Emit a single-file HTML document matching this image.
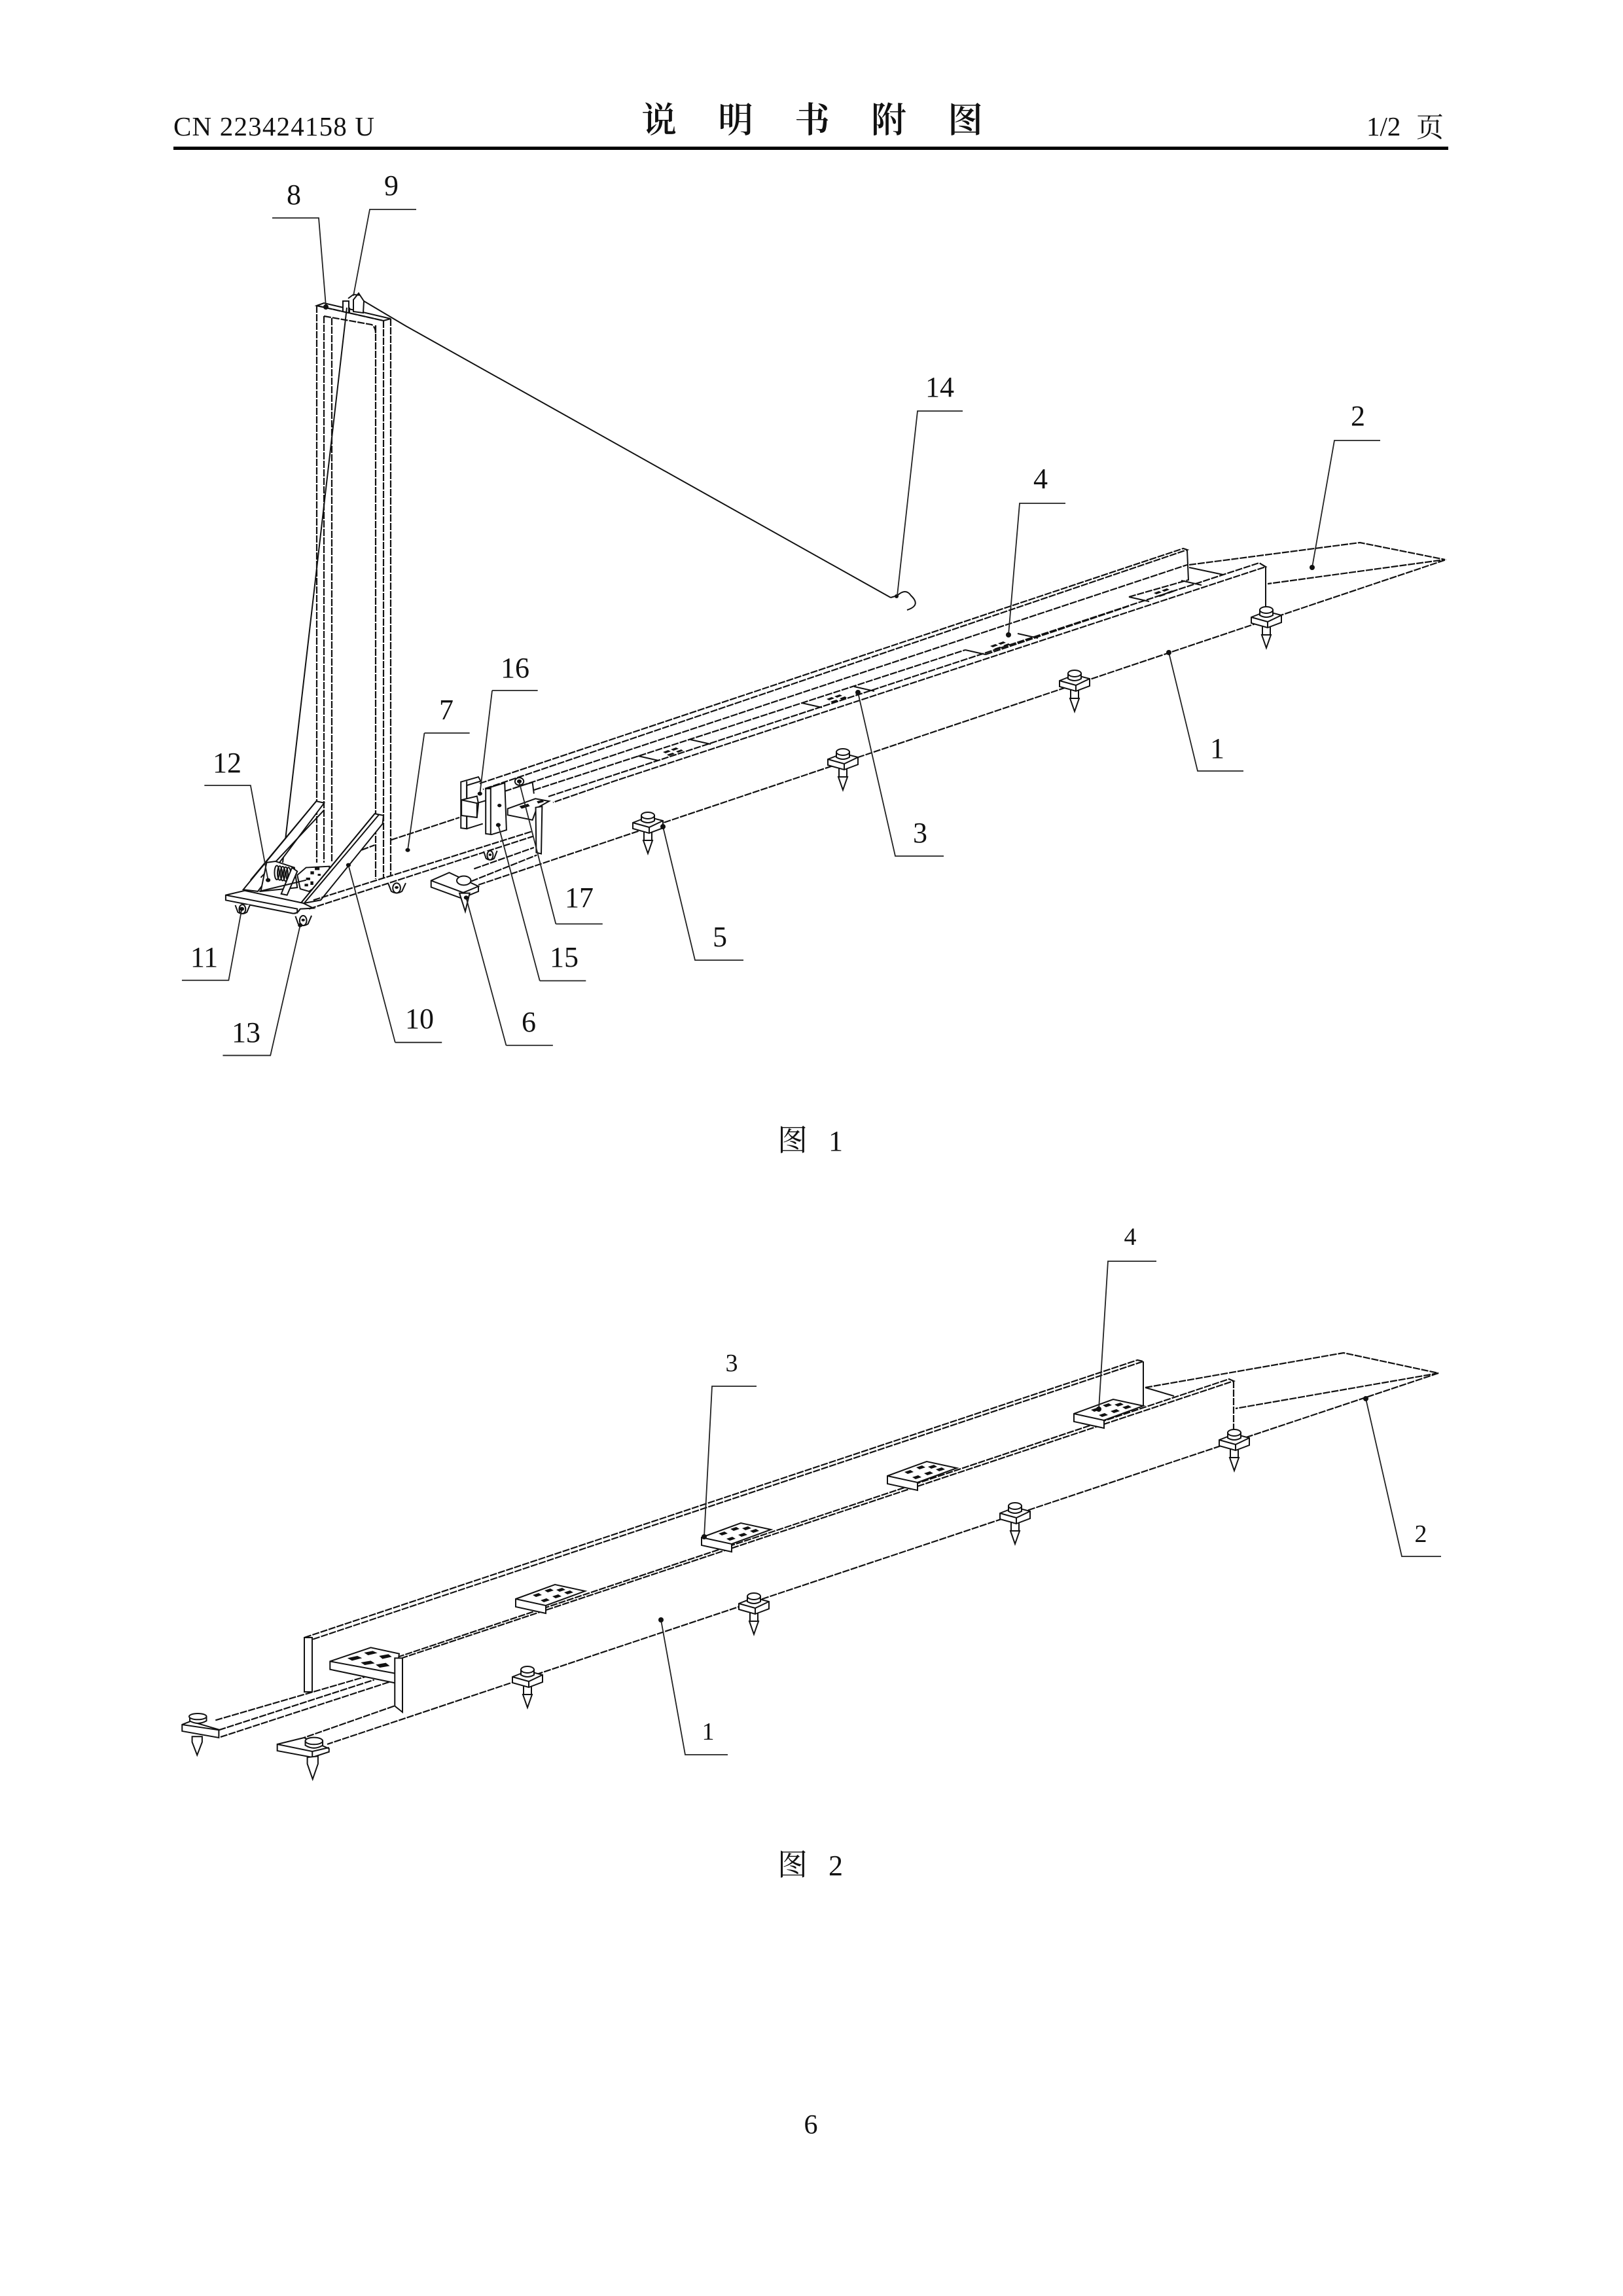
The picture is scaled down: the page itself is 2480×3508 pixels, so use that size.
<!DOCTYPE html>
<html><head><meta charset="utf-8"><style>
html,body{margin:0;padding:0;background:#fff}
svg{display:block}
svg *{vector-effect:non-scaling-stroke}
.o{fill:none;stroke:#111;stroke-width:2.2;stroke-dasharray:11 2}
.s{fill:none;stroke:#111;stroke-width:2}
.w{fill:#fff;stroke:#111;stroke-width:2}
.l{fill:none;stroke:#222;stroke-width:1.8}
.k{fill:#111;stroke:none}
text{fill:#111;font-family:"Liberation Serif","Noto Serif CJK SC",serif}
.n{font-size:44px;text-anchor:middle}
</style></head><body>
<svg xmlns="http://www.w3.org/2000/svg" xmlns:xlink="http://www.w3.org/1999/xlink" width="2480" height="3508" viewBox="0 0 2480 3508">
<defs>
<g id="bolt">
<rect class="w" x="-6" y="8" width="12" height="14"/>
<path class="w" d="M-7 22 L0 42 L7 22 Z"/>
<path class="w" d="M-23 -5 L0 -14 L23 -8 L23 3 L2 11 L-23 4 Z"/>
<path class="s" d="M-23 -5 L2 2 L23 -8 M2 2 V11"/>
<path class="w" d="M-10 -16 V-8 Q0 -2 10 -8 V-16 Z"/>
<ellipse class="w" cx="0" cy="-16" rx="10" ry="5"/>
</g>
<g id="p1">
<path class="s" d="M0 0 L31 7 M80 -25 L111 -18"/>
<path class="k" d="M38 -6 l8 -3 4 2 -8 3z M50 -10 l8 -3 4 2 -8 3z M44 -2 l9 -3 3 2 -9 3z M58 -7 l8 -3 3 2 -8 3z"/>
</g>
<g id="p2">
<path class="w" d="M0 0 L60 -22 L106 -12 L46 10 L46 22 L0 12 Z"/>
<path class="s" d="M0 0 L46 10 V22"/>
<path class="k" d="M26 -6 l9 -3 5 3 -9 3z M44 -13 l9 -3 5 3 -9 3z M62 -14 l9 -3 5 3 -9 3z M38 2 l9 -3 5 3 -9 3z M56 -4 l9 -3 5 3 -9 3z M74 -10 l9 -3 5 3 -9 3z"/>
</g>
<g id="cast">
<path class="w" d="M-22 -10 L-14 18 Q0 30 14 18 L24 -12"/>
<ellipse class="w" cx="0" cy="6" rx="10" ry="18"/>
<circle class="k" r="5" cy="4"/>
</g>
</defs>

<!-- Header -->
<text x="265" y="207" font-size="41" textLength="307" lengthAdjust="spacing">CN 223424158 U</text>
<g font-size="54" style="font-family:'Noto Serif CJK SC',serif;font-weight:600">
<text x="980" y="202">说</text><text x="1097" y="202">明</text><text x="1214" y="202">书</text><text x="1331" y="202">附</text><text x="1448" y="202">图</text>
</g>
<text x="2088" y="207" font-size="41">1/2</text>
<text x="2164" y="209" font-size="42" style="font-family:'Noto Serif CJK SC',serif">页</text>
<rect x="265" y="224" width="1948" height="5" fill="#000"/>

<!-- FIG 1 tower -->
<path class="o" d="M484 467 V1318 M495 483 V1318 M507 486 V1318"/>
<path class="o" d="M574 497 V1343 M586 490 V1342 M597 487 V1337"/>
<path class="w" d="M484 467 L495 463 L597 487 L586 490 Z"/>
<path class="o" d="M484 467 L586 490 M495 483 L568 496 Q574 500 574 510"/>
<path class="w" d="M524 460 H533 L533 478 L524 476 Z"/>
<path class="w" d="M540 458 L548 448 L556 460 L555 478 L540 476 Z"/>
<path class="s" d="M532 456 L540 450 L550 451 M534 478 V470 M540 458 V476"/>
<path class="s" d="M556 460 L620 498 L1361 913"/>
<path class="s" d="M530 470 L432 1318"/>
<!-- hook -->
<path class="s" d="M1361 913 L1371 910 Q1384 898 1392 910 Q1408 925 1386 932"/>
<circle class="k" cx="1370" cy="911" r="3"/>

<!-- FIG 1 long rail -->
<path class="o" d="M733 1197 L1808 838 L1814 840 L738 1206"/>
<path class="s" d="M1814 840 L1816 887"/>
<path class="o" d="M771 1209 L1814 863"/>
<path class="o" d="M816 1207 L1475 993 M1506 1000 L1725 926 M1725 912 L1816 886"/>
<path class="o" d="M838 1217 L1924 860 L1934 866 L940 1193 L845 1226"/>
<path class="o" d="M731 1352 L2210 855"/>
<path class="s" d="M1934 866 V932"/>
<path class="o" d="M1817 863 L2078 829 L2208 855 L1937 892"/>
<path class="s" d="M1817 867 L1869 878"/>
<use xlink:href="#p1" x="975" y="1155"/><use xlink:href="#p1" x="1225" y="1074"/><use xlink:href="#p1" x="1475" y="993"/><use xlink:href="#p1" x="1725" y="912"/>
<use xlink:href="#bolt" x="1935" y="948"/><use xlink:href="#bolt" x="1642" y="1045"/><use xlink:href="#bolt" x="1288" y="1165"/><use xlink:href="#bolt" x="990" y="1262"/>

<!-- FIG 1 lower left, zoom coordinates -->
<g transform="translate(240,1050) scale(.4464,.3827)">
<path class="o" d="M800 610 L1035 520 M700 650 L745 630"/>
<!-- left brace -->
<path class="w" d="M545 455 L572 462 L345 815 L295 808 Z"/>
<path class="s" d="M572 490 L355 760 M545 455 L320 770"/>
<!-- winch -->
<path class="w" d="M375 700 L405 695 L470 720 L480 800 L355 815 Z"/>
<g class="s"><ellipse cx="410" cy="740" rx="8" ry="28"/><ellipse cx="420" cy="742" rx="8" ry="28"/><ellipse cx="430" cy="744" rx="8" ry="28"/><ellipse cx="440" cy="746" rx="8" ry="28"/><ellipse cx="450" cy="748" rx="8" ry="28"/></g>
<path class="w" d="M425 825 L462 720 L480 735 L445 830 Z"/>
<path class="w" d="M480 750 L510 720 L590 715 L590 760 L520 815 L490 805 Z"/>
<path class="k" d="M510 760h14v10h-14z M525 735h12v12h-12z M540 720h16v10h-16z M525 775h10v14h-10z M505 785h12v10h-12z M550 745h10v8h-10z"/>
<path class="s" d="M350 815 L510 770"/>
<!-- right brace -->
<path class="w" d="M745 505 L775 512 L772 545 L560 850 L490 865 Z"/>
<path class="s" d="M760 508 L505 860 M745 505 L490 865"/>
<!-- platform -->
<path class="w" d="M235 830 L300 812 L500 862 L535 882 L490 885 Q480 905 465 903 L235 850 Z"/>
<path class="s" d="M235 830 L480 885 V903"/>
<path class="o" d="M535 850 L1285 575 M520 885 L1288 595"/>
<use xlink:href="#cast" transform="translate(292,880) scale(1.1,1)"/>
<use xlink:href="#cast" transform="translate(500,925) scale(1.2,1.1)"/>
<use xlink:href="#cast" transform="translate(820,795) scale(1.3,1.1)"/>
<use xlink:href="#cast" transform="translate(1140,665) scale(1,1)"/>
<!-- block 16 -->
<path class="w" d="M1040 378 L1100 358 L1108 375 L1060 392 V565 L1040 562 Z"/>
<path class="s" d="M1060 375 V565 M1060 565 L1115 545"/>
<path class="w" d="M1042 450 L1095 435 L1100 465 L1095 520 L1042 512 Z"/>
<path class="s" d="M1042 450 L1095 463 V520 M1095 463 L1190 430"/>
<!-- block 15 -->
<path class="w" d="M1125 405 L1190 382 L1196 570 L1145 588 L1125 585 Z"/>
<path class="s" d="M1142 400 V590 M1125 405 L1142 405"/>
<circle class="k" cx="1172" cy="472" r="7"/>
<!-- small plate, upright -->
<path class="w" d="M1200 485 L1295 445 L1342 455 L1300 482 L1285 530 L1200 510 Z"/>
<path class="k" d="M1240 475 l30 -10 6 10 -28 10z M1300 455 l20 -5 4 8 -20 6z"/>
<path class="s" d="M1240 395 L1285 380 L1290 425"/>
<circle class="w" cx="1240" cy="376" r="15"/><circle class="k" cx="1240" cy="376" r="8"/>
<path class="w" d="M1296 480 L1318 476 L1315 665 L1298 660 Z"/>
<path class="o" d="M1085 725 L1290 640 M1075 775 L1300 670"/>
<!-- foot -->
<path class="w" d="M938 772 L1000 740 L1100 795 L1048 820 V845 L938 798 Z"/>
<path class="s" d="M938 772 L1048 820 M1100 795 V815 L1048 840"/>
<path class="w" d="M1035 822 L1055 895 L1070 822 Z"/>
<ellipse class="w" cx="1050" cy="772" rx="24" ry="18"/>
<!-- Leaders -->
<g class="l">
<path d="M162 392 H320 L380 770"/>
<path d="M915 183 H1070 M915 183 L858 650"/>
<path d="M85 1170 H245 L290 885"/>
<path d="M225 1470 H388 L490 950"/>
<path d="M815 1418 H975 M815 1418 L655 710"/>
<path d="M1195 1430 H1355 M1195 1430 L1058 840"/>
<path d="M1365 945 H1525 M1365 945 L1240 380"/>
<path d="M1310 1172 H1468 M1310 1172 L1168 550"/>
<path d="M1147 13 H1303 M1147 13 L1105 425"/>
</g>
<g class="k">
<ellipse cx="380" cy="770" rx="8" ry="8"/><ellipse cx="858" cy="650" rx="8" ry="8"/><ellipse cx="290" cy="885" rx="8" ry="8"/><ellipse cx="490" cy="950" rx="8" ry="8"/><ellipse cx="655" cy="710" rx="8" ry="8"/><ellipse cx="1058" cy="840" rx="8" ry="8"/><ellipse cx="1168" cy="550" rx="8" ry="8"/><ellipse cx="1105" cy="425" rx="8" ry="8"/>
</g>
</g>

<!-- FIG 1 leaders -->
<g class="l">
<path d="M416 333 H487 L498 468"/>
<path d="M636 320 H565 L540 452"/>
<path d="M1471 628 H1402 L1371 910"/>
<path d="M1628 769 H1558 L1541 970"/>
<path d="M2109 673 H2039 L2005 867"/>
<path d="M1900 1178 H1830 L1786 997"/>
<path d="M1442 1308 H1368 L1311 1058"/>
<path d="M1136 1467 H1062 L1013 1263"/>
</g>
<g class="k">
<circle cx="498" cy="469" r="4"/><circle cx="2005" cy="867" r="4"/><circle cx="1786" cy="997" r="4"/><circle cx="1311" cy="1058" r="4"/><circle cx="1013" cy="1263" r="4"/><circle cx="1541" cy="970" r="4"/>
</g>
<g class="n">
<text class="n" x="449" y="312">8</text>
<text class="n" x="598" y="298">9</text>
<text class="n" x="1436" y="606">14</text>
<text class="n" x="2075" y="650">2</text>
<text class="n" x="1590" y="746">4</text>
<text class="n" x="787" y="1035">16</text>
<text class="n" x="682" y="1099">7</text>
<text class="n" x="1860" y="1158">1</text>
<text class="n" x="347" y="1180">12</text>
<text class="n" x="1406" y="1287">3</text>
<text class="n" x="885" y="1386">17</text>
<text class="n" x="862" y="1477">15</text>
<text class="n" x="1100" y="1446">5</text>
<text class="n" x="312" y="1477">11</text>
<text class="n" x="641" y="1571">10</text>
<text class="n" x="808" y="1576">6</text>
<text class="n" x="376" y="1592">13</text>
</g>
<text x="1188" y="1758" font-size="46" style="font-family:'Noto Serif CJK SC',serif">图</text>
<text x="1266" y="1758" font-size="44">1</text>

<!-- FIG 2 long lines -->
<path class="s" d="M465 2502 H477 V2585 H465 Z"/>
<path class="o" d="M465 2502 L1738 2078 L1747 2080 L477 2505"/>
<path class="s" d="M1747 2080 V2148"/>
<path class="o" d="M607 2532 L1878 2107 L1885 2110 L615 2533"/>
<path class="o" d="M2198 2098 L500 2665"/>
<path class="o" d="M1750 2120 L2053 2067 L2198 2098 L1888 2152"/>
<path class="s" d="M1750 2120 L1794 2133"/>
<path class="o" d="M1885 2110 V2185"/>
<use xlink:href="#p2" x="788" y="2443"/><use xlink:href="#p2" x="1072" y="2349"/><use xlink:href="#p2" x="1356" y="2255"/><use xlink:href="#p2" x="1641" y="2160"/>
<use xlink:href="#bolt" x="1886" y="2205"/><use xlink:href="#bolt" x="1551" y="2317"/><use xlink:href="#bolt" x="1152" y="2455"/><use xlink:href="#bolt" x="806" y="2567"/>

<!-- FIG 2 lower-left, zoom coordinates -->
<g transform="translate(240,2380) scale(.5102,.3333)">
<path class="o" d="M175 745 L625 545 M185 790 L650 560 M190 822 L695 570"/>
<path class="o" d="M710 680 L440 825"/>
<path class="w" d="M518 475 L640 412 L725 440 L715 575 L518 512 Z"/>
<path class="s" d="M518 475 L712 530"/>
<path class="k" d="M570 460 l30 -10 14 10 -30 12z M620 435 l26 -8 14 10 -28 10z M665 450 l28 -8 10 12 -28 10z M610 480 l30 -8 12 12 -30 8z M655 490 l30 -8 12 14 -30 8z"/>
<path class="w" d="M712 460 H735 V708 L712 680 Z"/>
<path class="w" d="M75 765 L100 750 L185 788 V825 L75 795 Z"/>
<path class="s" d="M75 765 L185 790"/>
<path class="w" d="M105 820 V845 L120 905 L135 845 V820 Z"/>
<path class="w" d="M98 728 V748 Q122 770 148 748 V728 Z"/>
<ellipse class="w" cx="122" cy="728" rx="26" ry="14"/>
<path class="w" d="M360 855 L440 825 L515 875 V890 L465 915 L360 885 Z"/>
<path class="s" d="M360 855 L465 888 L515 870 M465 888 V915"/>
<path class="w" d="M450 915 V945 L466 1015 L482 945 V910 Z"/>
<path class="w" d="M444 840 V860 Q470 885 496 860 V840 Z"/>
<ellipse class="w" cx="470" cy="840" rx="26" ry="16"/>
</g>

<!-- FIG 2 leaders -->
<g class="l">
<path d="M1156 2118 H1088 L1076 2348"/>
<path d="M1767 1927 H1693 L1679 2153"/>
<path d="M2202 2378 H2142 L2087 2137"/>
<path d="M1112 2681 H1047 L1010 2475"/>
</g>
<g class="k"><circle cx="1076" cy="2348" r="4"/><circle cx="2087" cy="2137" r="4"/><circle cx="1010" cy="2475" r="4"/><circle cx="1679" cy="2153" r="4"/></g>
<g>
<text class="n" style="font-size:38px" x="1118" y="2095">3</text>
<text class="n" style="font-size:38px" x="1727" y="1902">4</text>
<text class="n" style="font-size:38px" x="2171" y="2356">2</text>
<text class="n" style="font-size:38px" x="1082" y="2658">1</text>
</g>
<text x="1188" y="2865" font-size="46" style="font-family:'Noto Serif CJK SC',serif">图</text>
<text x="1266" y="2865" font-size="44">2</text>
<text x="1239" y="3260" font-size="42" text-anchor="middle">6</text>
</svg>
</body></html>
